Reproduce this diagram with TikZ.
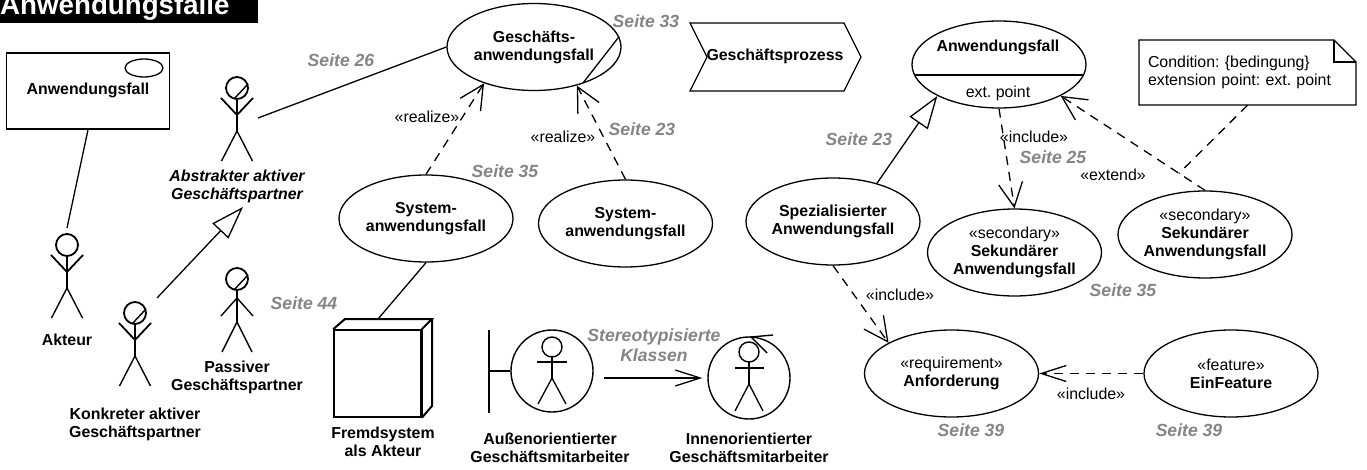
\documentclass[tikz,border=0pt]{standalone}
\usepackage{fontspec}
\setmainfont{Liberation Sans}
\usetikzlibrary{arrows.meta,shapes.geometric}
\tikzset{
  usecase/.style={draw,ellipse,fill=white,line width=1.3pt,minimum width=174pt,minimum height=87pt,inner sep=0pt,align=center,font=\fontsize{15.9}{18}\selectfont\bfseries},
  name label/.style={inner sep=0pt,align=center,font=\fontsize{15.9}{18}\selectfont\bfseries},
  plain label/.style={inner sep=0pt,align=center,font=\fontsize{15.9}{18}\selectfont},
  page ref/.style={inner sep=0pt,align=center,text=black!48,font=\fontsize{17.6}{20}\selectfont\bfseries\itshape},
  assoc/.style={line width=1.3pt},
  open head/.style={-{Straight Barb[length=24pt,width=24pt,line width=1.3pt]}},
  small head/.style={-{Straight Barb[length=25pt,width=16pt,line width=1.3pt]}},
  dep/.style={line width=1.3pt,dash pattern=on 9pt off 7pt,open head},
  dep small/.style={line width=1.3pt,dash pattern=on 9pt off 7pt,small head},
  gen/.style={line width=1.3pt,-{Triangle[open,length=33pt,width=22pt,fill=white,line width=1.3pt]}},
  figure line/.style={line width=1.8pt},
}
\newcommand{\stereo}[1]{{\mdseries\fontsize{15.9}{18}\selectfont «#1»}}
\frenchspacing
\begin{document}
\begin{tikzpicture}[x=1pt,y=-1pt]
    \useasboundingbox (0,0) rectangle (1367,470);

    % Title bar
    \fill[black] (0,0) rectangle (258,23);
    \node (title) [anchor=base west,inner sep=0pt,text=white,font=\fontsize{27.7}{30}\selectfont\bfseries] at (0,15) {Anwendungsfälle};

    % Use case as a box
    \node (ucbox) [draw,line width=1.6pt,minimum width=163pt,minimum height=76pt,inner sep=0pt] at (88,91) {};
    \node (ucboxtext) [name label] at (88,90) {Anwendungsfall};
    \node (ucboxicon) [draw,ellipse,line width=1.3pt,minimum width=38pt,minimum height=18pt,inner sep=0pt] at (144,68) {};

    % Stick figures with raised arms
    \foreach \cx/\cy in {67/245,237/88,135/313} {
        \draw[figure line] (\cx,\cy) circle (11);
        \draw[figure line] (\cx,\cy+11) -- (\cx,\cy+43);
        \draw[figure line] (\cx-16,\cy+10) -- (\cx,\cy+27) -- (\cx+16,\cy+10);
        \draw[line width=1.4pt] (\cx-15.5,\cy+73) -- (\cx,\cy+43) -- (\cx+15.5,\cy+73);
      }
    % Passive partner has lowered arms
    \draw[figure line] (237,279) circle (11);
    \draw[figure line] (237,290) -- (237,322);
    \draw[line width=1.4pt] (221,316) -- (237,298) -- (253,316);
    \draw[line width=1.4pt] (222,352) -- (237,322) -- (252,352);
    % Slash through the head
    \foreach \cx/\cy in {237/88,135/313,237/279} {
        \draw[line width=1.4pt] (\cx-3,\cy+11) -- (\cx+11,\cy-4);
      }

    \node (akteur) [name label] at (67,340) {Akteur};
    \node (abstrakt) [name label,font=\fontsize{15.9}{18}\selectfont\bfseries\itshape] at (237,186) {Abstrakter aktiver\\Geschäftspartner};
    \node (konkret) [name label] at (135,424) {Konkreter aktiver\\Geschäftspartner};
    \node (passiv) [name label] at (237,377) {Passiver\\Geschäftspartner};

    \coordinate (akteurhead) at (67,228);
    \coordinate (abstrakthand) at (258,118);
    \coordinate (konkrethand) at (157,298);
    \coordinate (abstraktfoot) at (243,207);

    % Business side
    \node (gf) [usecase] at (534,47) {Geschäfts-\\anwendungsfall};
    \node (sysa) [usecase] at (426,218.5) {System-\\anwendungsfall};
    \node (sysb) [usecase] at (625.5,223.5) {System-\\anwendungsfall};
    \draw[assoc] (gf.7) -- (583,83);

    % Process
    \draw[line width=1.3pt] (690,23) -- (844,23) -- (861,57) -- (844,91) -- (690,91) -- (707,57) -- cycle;
    \node (prozess) [name label] at (775,56) {Geschäftsprozess};

    % External system
    \node (fremd) [draw,fill=white,line width=1.6pt,minimum width=87pt,minimum height=87pt,inner sep=0pt] at (377.5,373.5) {};
    \draw[line width=2pt] (fremd.north west) -- (345,319) -- (432,319) -- (fremd.north east);
    \draw[line width=2pt] (432,319) -- (432,406) -- (fremd.south east);
    \draw[line width=2pt] (fremd.north east) -- (fremd.south east);
    \node (fremdtext) [name label] at (383,442) {Fremdsystem\\als Akteur};
    \coordinate (fremdtop) at (378,319);

    % Boundary worker
    \node (aussen) [draw,circle,line width=1.4pt,minimum size=82pt,inner sep=0pt] at (552,371) {};
    \draw[line width=1.4pt] (489,330) -- (489,413);
    \draw[line width=1.4pt] (489,371) -- (aussen.west);
    \draw[line width=1.4pt] (552,347) circle (10);
    \draw[figure line] (552,357) -- (552,378);
    \draw[figure line] (537,362) -- (567,362);
    \draw[line width=1.3pt] (538,404) -- (552,378) -- (566,404);
    \node (aussentext) [name label] at (550,448) {Außenorientierter\\Geschäftsmitarbeiter};

    % Control worker
    \node (innen) [draw,circle,line width=1.4pt,minimum size=82pt,inner sep=0pt] at (749,378) {};
    \draw[line width=1.4pt] (773,335) -- (751,337) -- (767,353);
    \draw[line width=1.4pt] (749,352) circle (10);
    \draw[figure line] (749,362) -- (749,384);
    \draw[figure line] (735,368) -- (764,368);
    \draw[line width=1.3pt] (735,411) -- (749,384) -- (763,411);
    \node (innentext) [name label] at (749,448) {Innenorientierter\\Geschäftsmitarbeiter};
    \coordinate (aussenexit) at (604,378);

    % Right side
    \node (uc) [usecase] at (999,64.5) {};
    \draw[line width=1.8pt] (915,75) -- (1083,75);
    \node (uctext) [name label] at (998,47) {Anwendungsfall};
    \node (ucpoint) [plain label] at (998,93) {ext. point};
    \node (spez) [usecase] at (833,221.5) {Spezialisierter\\Anwendungsfall};
    \node (seka) [usecase] at (1014.5,252.5) {\stereo{secondary}\\Sekundärer\\Anwendungsfall};
    \node (sekb) [usecase] at (1205,234.5) {\stereo{secondary}\\Sekundärer\\Anwendungsfall};
    \node (anf) [usecase] at (951.5,373.5) {\stereo{requirement}\\Anforderung};
    \node (feat) [usecase] at (1231,373.5) {\stereo{feature}\\EinFeature};

    % Note
    \draw[line width=1.3pt] (1139,40) -- (1334,40) -- (1356,62) -- (1356,105) -- (1139,105) -- cycle;
    \draw[line width=1.3pt] (1334,40) -- (1334,62) -- (1356,62);
    \node (note) [plain label,minimum width=217pt,minimum height=65pt,text width=199pt,align=left] at (1247.5,72.5) {Condition: \{bedingung\}\\extension point: ext. point};

    % Connectors
    \draw[assoc] (ucbox.south) -- (akteurhead);
    \draw[assoc] (abstrakthand) -- (gf.west);
    \draw[gen] (konkrethand) -- (abstraktfoot);
    \draw[assoc] (sysa.south) -- (fremdtop);
    \draw[dep] (sysa.north) -- (gf.216);
    \draw[dep] (sysb.north) -- (gf.318);
    \draw[assoc,small head,shorten >=5pt] (aussenexit) -- (innen.west);
    \draw[gen] (spez.41) -- (uc.207);
    \draw[dep] (uc.south) -- (seka.north);
    \draw[dep] (sekb.north) -- coordinate[pos=.18] (extmid) (uc.333);
    \draw[line width=1.3pt,dash pattern=on 9pt off 7pt] (note.south) -- (extmid);
    \draw[dep] (spez.south) -- (anf.154);
    \draw[dep small] (feat.west) -- (anf.east);

    % Stereotype labels
    \node (lblrealizea) [plain label] at (427,117) {«realize»};
    \node (lblrealizeb) [plain label] at (563,137) {«realize»};
    \node (lblincludea) [plain label] at (1034,137) {«include»};
    \node (lblextend) [plain label] at (1113,175) {«extend»};
    \node (lblincludeb) [plain label] at (900,295) {«include»};
    \node (lblincludec) [plain label] at (1091,394) {«include»};

    % Page references
    \foreach \px/\py/\ptext in {341/60/26,646/21/33,642/129/23,505/171/35,859/139/23,304/303/44,1053/157/25,1123/290/35,971/430/39,1189/430/39} {
        \node [page ref] at (\px,\py) {Seite \ptext};
      }
    \node (klassen) [page ref] at (654,345) {Stereotypisierte\\Klassen};
  \end{tikzpicture}
\end{document}
